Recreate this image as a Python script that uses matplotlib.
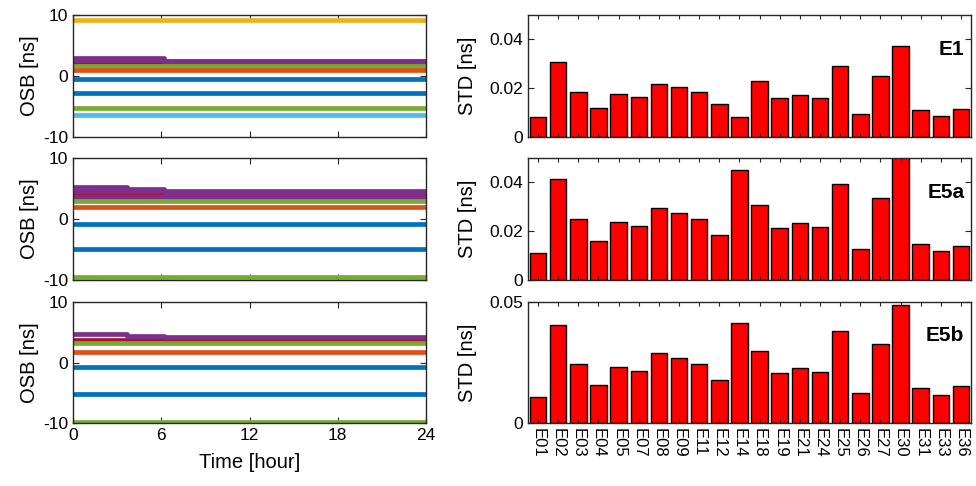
import matplotlib
matplotlib.use("Agg")
import matplotlib.pyplot as plt

plt.rcParams['font.family'] = ['Liberation Sans', 'DejaVu Sans']
plt.rcParams['font.size'] = 12
plt.rcParams['axes.unicode_minus'] = False

# MATLAB default colour order
BLUE, ORANGE, YELLOW, PURPLE = "#0072BD", "#D95319", "#EDB120", "#7E2F8E"
GREEN, LBLUE, DRED = "#77AC30", "#4DBEEE", "#A2142F"

sats = ["E01", "E02", "E03", "E04", "E05", "E07", "E08", "E09", "E11", "E12", "E14",
        "E18", "E19", "E21", "E24", "E25", "E26", "E27", "E30", "E31", "E33", "E36"]

std_e1 = [0.0082, 0.0308, 0.0185, 0.0119, 0.0175, 0.0164, 0.0218, 0.0203, 0.0185, 0.0137, 0.0082,
          0.0229, 0.0158, 0.0171, 0.0159, 0.0289, 0.0093, 0.0248, 0.0373, 0.0111, 0.0088, 0.0116]
std_e5a = [0.0110, 0.0415, 0.0250, 0.0161, 0.0239, 0.0222, 0.0294, 0.0274, 0.0250, 0.0185, 0.0452,
           0.0306, 0.0214, 0.0233, 0.0217, 0.0392, 0.0127, 0.0335, 0.0520, 0.0148, 0.0119, 0.0138]
std_e5b = [0.0108, 0.0405, 0.0244, 0.0156, 0.0232, 0.0216, 0.0288, 0.0267, 0.0244, 0.0179, 0.0414,
           0.0299, 0.0208, 0.0226, 0.0211, 0.0379, 0.0125, 0.0326, 0.0489, 0.0145, 0.0116, 0.0155]

# OSB time series: levels at the breakpoints (hours), step-wise
t_break = [0, 3.7, 6.2, 24]
osb_e1 = [
    (YELLOW, [9.2, 9.2, 9.2, 9.2]),
    (DRED, [2.2, 2.2, 2.2, 2.2]),
    (PURPLE, [2.6, 2.6, 2.5, 2.5]),
    (PURPLE, [3.0, 2.9, 2.5, 2.5]),
    (GREEN, [1.6, 1.6, 1.6, 1.6]),
    (ORANGE, [1.0, 1.0, 1.0, 1.0]),
    (BLUE, [-0.45, -0.45, -0.45, -0.45]),
    (BLUE, [-2.85, -2.85, -2.85, -2.85]),
    (GREEN, [-5.3, -5.3, -5.3, -5.3]),
    (LBLUE, [-6.45, -6.45, -6.45, -6.45]),
]
osb_e5a = [
    (DRED, [4.2, 4.2, 4.2, 4.2]),
    (PURPLE, [5.2, 4.9, 4.6, 4.6]),
    (PURPLE, [4.6, 4.6, 4.4, 4.4]),
    (PURPLE, [3.6, 3.6, 3.6, 3.6]),
    (GREEN, [3.0, 3.0, 3.0, 3.0]),
    (ORANGE, [2.0, 2.0, 2.0, 2.0]),
    (BLUE, [-0.75, -0.75, -0.75, -0.75]),
    (BLUE, [-5.0, -5.0, -5.0, -5.0]),
    (GREEN, [-9.55, -9.55, -9.55, -9.55]),
]
osb_e5b = [
    (DRED, [3.8, 3.8, 3.8, 3.8]),
    (PURPLE, [4.65, 4.4, 4.2, 4.2]),
    (GREEN, [3.3, 3.3, 3.3, 3.3]),
    (ORANGE, [1.7, 1.7, 1.7, 1.7]),
    (BLUE, [-0.75, -0.75, -0.75, -0.75]),
    (BLUE, [-5.15, -5.15, -5.15, -5.15]),
    (GREEN, [-9.8, -9.8, -9.8, -9.8]),
]

AX = "#262626"
fig = plt.figure(figsize=(9.76, 4.86), dpi=100)

rows = [(0.7181, 0.251), (0.4239, 0.251), (0.1296, 0.249)]
left_x, left_w = 0.0748, 0.3617
right_x, right_w = 0.541, 0.4539


def style(ax):
    for s in ax.spines.values():
        s.set_color(AX)
        s.set_linewidth(1.0)
    ax.tick_params(direction="in", top=True, right=True, colors=AX, labelcolor="black",
                   length=4, width=0.8, labelsize=12.5)


for i, (osb, std, name) in enumerate(zip([osb_e1, osb_e5a, osb_e5b],
                                         [std_e1, std_e5a, std_e5b],
                                         ["E1", "E5a", "E5b"])):
    b, h = rows[i]
    ax = fig.add_axes([left_x, b, left_w, h])
    for c, v in osb:
        ax.plot(t_break, v, color=c, lw=3.4, drawstyle="steps-post", solid_capstyle="butt")
    ax.set_xlim(0, 24)
    ax.set_ylim(-10, 10)
    ax.set_xticks([0, 6, 12, 18, 24])
    ax.set_yticks([-10, 0, 10])
    ax.set_ylabel("OSB [ns]", fontsize=14.5, labelpad=3)
    style(ax)
    if i < 2:
        ax.set_xticklabels([])
    else:
        ax.set_xlabel("Time [hour]", fontsize=14.5, labelpad=7)

    bx = fig.add_axes([right_x, b, right_w, h])
    pos = list(range(1, len(sats) + 1))
    bx.bar(pos, std, width=0.82, color="#FF0000", edgecolor="black", linewidth=1.0)
    bx.set_xlim(0.5, len(sats) + 0.5)
    bx.set_ylim(0, 0.05)
    bx.set_xticks(pos)
    if i < 2:
        bx.set_yticks([0, 0.02, 0.04])
        bx.set_yticklabels(["0", "0.02", "0.04"])
        bx.set_xticklabels([])
    else:
        bx.set_yticks([0, 0.05])
        bx.set_yticklabels(["0", "0.05"])
        bx.set_xticklabels(sats, rotation=-90)
    bx.set_ylabel("STD [ns]", fontsize=14.5, labelpad=9)
    style(bx)
    bx.tick_params(axis="x", length=3, labelsize=12)
    bx.text(0.985, 0.72, name, transform=bx.transAxes, ha="right", va="center",
            fontsize=15, fontweight="bold")

fig.savefig("out.png", dpi=100)
